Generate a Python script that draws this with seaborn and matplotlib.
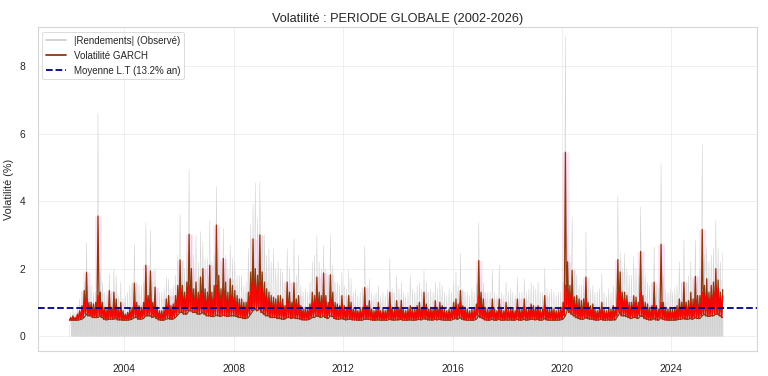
import numpy as np
import pandas as pd
import seaborn as sns
import matplotlib.pyplot as plt
import matplotlib.dates as mdates

# valeurs mensuelles (janv. 2002 -> nov. 2025)
# |rendements| : maximum du mois (%)
rend_max = [
    0.7, 0.8, 0.7, 0.9, 1.1, 1.3, 1.6, 2.77, 1.5, 1.5, 1.3, 1.3,        # 2002
    6.6, 1.9, 1.6, 1.3, 1.2, 1.85, 1.3, 2.0, 1.8, 1.2, 1.6, 1.1,        # 2003
    1.2, 1.3, 1.5, 1.6, 2.73, 1.6, 1.5, 1.5, 1.6, 3.36, 1.8, 3.14,      # 2004
    1.6, 2.0, 1.4, 1.3, 1.3, 1.4, 1.75, 1.7, 1.4, 1.5, 1.8, 2.4,        # 2005
    3.6, 2.2, 2.0, 2.5, 4.93, 3.0, 2.4, 3.0, 2.2, 3.1, 2.8, 2.3,        # 2006
    2.3, 3.43, 2.2, 2.4, 4.44, 2.6, 2.2, 3.2, 2.4, 2.0, 2.7, 2.3,       # 2007
    2.24, 1.8, 1.8, 1.8, 1.5, 1.6, 2.6, 3.3, 3.9, 4.54, 3.5, 4.56,      # 2008
    3.0, 3.0, 2.4, 2.6, 2.2, 2.6, 2.0, 2.2, 2.0, 1.9, 1.6, 2.58,        # 2009
    2.0, 1.6, 2.88, 1.8, 2.4, 1.5, 1.3, 1.4, 1.3, 1.6, 2.2, 2.4,        # 2010
    2.97, 2.2, 2.0, 2.68, 2.0, 1.8, 3.0, 2.1, 1.6, 1.6, 1.5, 1.9,       # 2011
    1.5, 1.4, 1.95, 1.7, 1.3, 1.4, 1.2, 1.3, 1.4, 2.66, 1.5, 1.7,       # 2012
    1.3, 1.2, 1.3, 1.5, 1.2, 1.3, 1.2, 1.4, 2.3, 1.4, 1.3, 1.8,         # 2013
    1.4, 1.6, 1.3, 1.2, 1.3, 1.8, 1.4, 1.3, 1.5, 1.6, 1.4, 1.94,        # 2014
    1.6, 1.3, 1.4, 1.3, 1.6, 1.4, 1.6, 1.5, 1.3, 1.2, 1.4, 1.3,         # 2015
    1.6, 1.9, 1.5, 2.45, 1.4, 1.3, 1.3, 1.2, 1.4, 1.3, 1.6, 3.36,       # 2016
    1.8, 1.6, 1.3, 1.3, 1.3, 1.95, 1.3, 1.2, 2.1, 1.3, 1.2, 1.6,        # 2017
    1.3, 1.4, 1.3, 1.2, 1.75, 1.3, 1.3, 1.7, 1.3, 1.4, 1.6, 1.5,        # 2018
    1.4, 1.6, 1.3, 1.3, 2.0, 1.4, 1.3, 1.4, 1.3, 1.2, 1.3, 1.3,         # 2019
    1.6, 8.9, 3.0, 2.4, 3.53, 2.0, 1.8, 1.5, 1.5, 1.5, 3.09, 1.6,       # 2020
    1.4, 1.5, 1.3, 1.3, 1.4, 1.86, 1.3, 1.2, 1.4, 1.3, 1.5, 1.4,        # 2021
    4.15, 2.5, 2.0, 2.45, 2.0, 1.8, 1.8, 2.35, 2.0, 1.8, 3.83, 2.0,     # 2022
    1.8, 1.6, 1.5, 1.6, 2.64, 1.5, 1.4, 5.12, 1.8, 1.4, 1.3, 1.4,       # 2023
    1.3, 1.4, 1.5, 2.2, 1.6, 2.86, 1.6, 1.8, 2.2, 1.7, 2.85, 1.8,       # 2024
    2.0, 5.68, 2.4, 2.64, 2.2, 2.4, 2.6, 3.43, 2.6, 2.2, 2.46,          # 2025
]

# volatilite GARCH : maximum du mois (%)
vol_max = [
    0.55, 0.6, 0.55, 0.65, 0.75, 0.9, 1.35, 1.89, 1.0, 1.0, 0.95, 1.0,
    3.56, 1.3, 1.0, 0.85, 0.8, 1.35, 0.85, 1.3, 1.1, 0.8, 1.0, 0.75,
    0.65, 0.7, 0.8, 0.85, 1.57, 1.0, 0.9, 0.85, 1.0, 2.1, 1.2, 1.93,
    1.0, 1.45, 0.85, 0.75, 0.75, 0.8, 1.1, 1.2, 0.9, 0.95, 1.2, 1.5,
    2.26, 1.5, 1.3, 1.6, 3.02, 2.0, 1.4, 1.6, 1.3, 1.75, 2.0, 1.4,
    1.3, 2.1, 1.3, 1.5, 3.29, 1.8, 1.4, 2.3, 1.6, 1.3, 1.7, 1.5,
    1.35, 1.2, 1.1, 1.1, 1.0, 1.0, 1.3, 1.9, 2.88, 2.0, 1.8, 3.0,
    1.9, 1.6, 1.4, 1.3, 1.2, 1.15, 1.1, 1.2, 1.2, 1.1, 0.9, 1.6,
    1.3, 1.0, 1.58, 1.1, 1.2, 0.9, 0.8, 0.85, 0.8, 0.95, 1.3, 1.2,
    1.75, 1.3, 1.2, 1.87, 1.2, 1.0, 1.82, 1.3, 1.0, 0.95, 0.9, 1.2,
    0.9, 0.85, 1.2, 1.0, 0.8, 0.85, 0.75, 0.8, 0.85, 1.44, 0.9, 1.05,
    0.8, 0.75, 0.8, 1.0, 0.75, 0.8, 0.75, 0.85, 1.3, 0.85, 0.8, 1.05,
    0.85, 1.06, 0.8, 0.75, 0.8, 0.9, 0.8, 0.8, 0.9, 1.0, 0.85, 1.3,
    0.95, 0.8, 0.85, 0.8, 1.05, 0.85, 1.0, 0.9, 0.8, 0.75, 0.8, 0.8,
    1.0, 1.1, 0.95, 1.35, 0.9, 0.85, 0.8, 0.75, 0.8, 0.8, 0.95, 2.24,
    1.3, 1.1, 0.85, 0.8, 0.8, 1.1, 0.8, 0.75, 1.1, 0.8, 0.75, 1.0,
    0.8, 0.85, 0.8, 0.75, 1.1, 0.8, 0.8, 1.1, 0.8, 0.85, 0.95, 0.9,
    0.85, 0.9, 0.8, 0.8, 1.2, 0.85, 0.8, 0.85, 0.8, 0.75, 0.8, 0.85,
    1.0, 5.45, 2.2, 1.5, 1.95, 1.16, 1.2, 1.1, 1.05, 1.1, 1.75, 1.0,
    0.9, 0.95, 0.8, 0.75, 0.85, 1.0, 0.8, 0.75, 0.85, 0.8, 0.9, 0.85,
    2.27, 1.9, 1.3, 1.3, 1.2, 1.0, 1.0, 1.2, 1.15, 1.0, 2.51, 1.2,
    1.0, 0.95, 0.85, 0.9, 1.6, 0.9, 0.8, 2.72, 1.0, 0.85, 0.8, 0.85,
    0.8, 0.85, 0.9, 1.1, 1.0, 1.6, 1.0, 1.05, 1.3, 1.1, 1.77, 1.2,
    1.2, 3.16, 1.5, 1.7, 1.3, 1.5, 1.6, 2.0, 1.66, 1.3, 1.38,
]

# volatilite GARCH : minimum du mois (%)
vol_min = [
    0.47, 0.47, 0.47, 0.47, 0.48, 0.5, 0.55, 0.65, 0.6, 0.6, 0.55, 0.55,
    0.55, 0.6, 0.55, 0.5, 0.48, 0.5, 0.5, 0.5, 0.52, 0.48, 0.48, 0.47,
    0.47, 0.47, 0.48, 0.5, 0.55, 0.55, 0.5, 0.5, 0.52, 0.6, 0.6, 0.6,
    0.55, 0.58, 0.52, 0.48, 0.47, 0.47, 0.5, 0.52, 0.5, 0.5, 0.55, 0.62,
    0.7, 0.7, 0.65, 0.65, 0.75, 0.75, 0.7, 0.7, 0.65, 0.65, 0.7, 0.65,
    0.6, 0.6, 0.58, 0.58, 0.62, 0.6, 0.58, 0.62, 0.6, 0.58, 0.6, 0.6,
    0.6, 0.58, 0.55, 0.55, 0.52, 0.52, 0.55, 0.65, 0.75, 0.8, 0.75, 0.8,
    0.7, 0.65, 0.6, 0.6, 0.55, 0.55, 0.55, 0.52, 0.52, 0.5, 0.5, 0.55,
    0.55, 0.52, 0.55, 0.52, 0.52, 0.5, 0.48, 0.48, 0.48, 0.5, 0.55, 0.55,
    0.6, 0.58, 0.55, 0.6, 0.55, 0.52, 0.6, 0.58, 0.52, 0.5, 0.5, 0.52,
    0.5, 0.48, 0.5, 0.5, 0.48, 0.48, 0.47, 0.47, 0.47, 0.5, 0.5, 0.5,
    0.48, 0.47, 0.47, 0.48, 0.47, 0.47, 0.47, 0.47, 0.5, 0.48, 0.47, 0.48,
    0.48, 0.5, 0.47, 0.47, 0.47, 0.48, 0.47, 0.47, 0.48, 0.5, 0.48, 0.52,
    0.5, 0.48, 0.48, 0.47, 0.5, 0.48, 0.5, 0.48, 0.47, 0.47, 0.47, 0.47,
    0.5, 0.52, 0.5, 0.55, 0.5, 0.48, 0.47, 0.47, 0.47, 0.47, 0.5, 0.6,
    0.55, 0.52, 0.48, 0.47, 0.47, 0.5, 0.47, 0.47, 0.5, 0.47, 0.47, 0.48,
    0.47, 0.48, 0.47, 0.47, 0.5, 0.47, 0.47, 0.5, 0.47, 0.48, 0.5, 0.5,
    0.48, 0.5, 0.47, 0.47, 0.52, 0.48, 0.47, 0.47, 0.47, 0.47, 0.47, 0.48,
    0.5, 0.6, 0.8, 0.7, 0.65, 0.6, 0.55, 0.52, 0.5, 0.5, 0.55, 0.52,
    0.5, 0.5, 0.48, 0.47, 0.48, 0.5, 0.47, 0.47, 0.48, 0.47, 0.48, 0.48,
    0.6, 0.7, 0.6, 0.6, 0.58, 0.55, 0.52, 0.55, 0.55, 0.52, 0.6, 0.58,
    0.52, 0.5, 0.48, 0.48, 0.52, 0.48, 0.47, 0.55, 0.5, 0.48, 0.47, 0.47,
    0.47, 0.47, 0.48, 0.5, 0.5, 0.52, 0.5, 0.5, 0.52, 0.5, 0.55, 0.52,
    0.52, 0.6, 0.65, 0.6, 0.58, 0.6, 0.6, 0.65, 0.65, 0.6, 0.55,
]

# haut de la zone rouge (%)
vol_rouge = [
    0.5, 0.55, 0.5, 0.6, 0.7, 0.8, 1.0, 1.1, 0.9, 0.85, 0.8, 0.8,
    1.2, 1.0, 0.85, 0.75, 0.7, 0.9, 0.75, 0.9, 0.85, 0.7, 0.8, 0.65,
    0.6, 0.65, 0.7, 0.75, 1.0, 0.85, 0.8, 0.75, 0.85, 1.2, 1.0, 1.1,
    0.85, 1.0, 0.75, 0.68, 0.65, 0.7, 0.9, 0.95, 0.8, 0.85, 1.0, 1.2,
    1.4, 1.2, 1.1, 1.2, 1.5, 1.4, 1.15, 1.2, 1.1, 1.25, 1.3, 1.15,
    1.1, 1.3, 1.1, 1.15, 1.5, 1.3, 1.1, 1.35, 1.2, 1.05, 1.2, 1.15,
    1.1, 1.0, 0.95, 0.9, 0.85, 0.85, 1.05, 1.3, 1.6, 1.6, 1.5, 1.6,
    1.4, 1.25, 1.15, 1.1, 1.0, 1.0, 0.95, 1.0, 1.0, 0.9, 0.8, 1.1,
    1.0, 0.85, 1.05, 0.9, 0.95, 0.8, 0.72, 0.75, 0.72, 0.8, 1.0, 1.0,
    1.15, 1.05, 1.0, 1.15, 1.0, 0.9, 1.1, 1.0, 0.85, 0.8, 0.8, 0.95,
    0.8, 0.75, 0.9, 0.85, 0.72, 0.75, 0.7, 0.7, 0.75, 0.95, 0.8, 0.85,
    0.72, 0.68, 0.7, 0.8, 0.68, 0.7, 0.68, 0.72, 0.9, 0.75, 0.7, 0.82,
    0.75, 0.82, 0.7, 0.68, 0.7, 0.78, 0.7, 0.7, 0.78, 0.82, 0.75, 0.9,
    0.8, 0.72, 0.75, 0.7, 0.85, 0.75, 0.82, 0.78, 0.7, 0.68, 0.72, 0.7,
    0.85, 0.9, 0.82, 1.0, 0.8, 0.75, 0.7, 0.68, 0.7, 0.7, 0.82, 1.2,
    0.95, 0.85, 0.72, 0.7, 0.7, 0.85, 0.7, 0.68, 0.85, 0.7, 0.68, 0.8,
    0.7, 0.75, 0.7, 0.68, 0.85, 0.7, 0.7, 0.85, 0.7, 0.75, 0.8, 0.78,
    0.75, 0.78, 0.7, 0.7, 0.9, 0.75, 0.7, 0.75, 0.7, 0.68, 0.7, 0.72,
    0.85, 1.5, 1.4, 1.2, 1.2, 0.95, 0.95, 0.85, 0.82, 0.85, 1.1, 0.82,
    0.78, 0.8, 0.7, 0.68, 0.72, 0.82, 0.7, 0.68, 0.72, 0.7, 0.75, 0.72,
    1.3, 1.35, 1.1, 1.1, 1.05, 0.9, 0.9, 1.0, 1.0, 0.9, 1.3, 1.0,
    0.85, 0.8, 0.72, 0.75, 0.95, 0.75, 0.7, 1.0, 0.8, 0.72, 0.7, 0.7,
    0.7, 0.72, 0.75, 0.85, 0.82, 0.95, 0.85, 0.88, 1.0, 0.9, 1.1, 0.95,
    0.95, 1.3, 1.2, 1.25, 1.1, 1.2, 1.25, 1.5, 1.4, 1.15, 1.2,
]

vol_lt = 0.83  # 13.2 % annualise / sqrt(252)
titre = "Volatilité : PERIODE GLOBALE (2002-2026)"

sns.set_theme(style="whitegrid", rc={
    "axes.edgecolor": "#d6d6d6", "axes.linewidth": 0.8,
    "grid.color": "#ececec", "grid.linewidth": 0.6,
})
plt.rcParams['font.family'] = ['Liberation Sans', 'DejaVu Sans']

mois = pd.date_range("2002-01-01", periods=len(vol_max), freq="MS")
milieu = mois + pd.Timedelta(days=15)


def zigzag(bas, haut):
    # bas en debut de mois, haut au milieu : aspect d'une serie journaliere dense
    df = pd.DataFrame({"date": np.concatenate([mois.values, milieu.values]),
                       "val": np.concatenate([bas, haut])})
    return df.sort_values("date").reset_index(drop=True)


gris = zigzag(np.zeros(len(rend_max)), rend_max)
rouge = zigzag(vol_min, vol_rouge)
garch = zigzag(vol_min, vol_max)
halo = pd.Series(vol_max).rolling(3, center=True, min_periods=1).max()

fig, ax = plt.subplots(figsize=(7.68, 3.76), dpi=100)
fig.subplots_adjust(left=0.049, right=0.986, bottom=0.066, top=0.928)

ax.fill_between(milieu, 0, halo, step="mid", color="#ff4fc0", alpha=0.16, lw=0, zorder=1)
# socle gris des rendements sous la bande GARCH
ax.fill_between(milieu, 0, vol_min, step="mid", color="#d9d9d9", lw=0, zorder=2)
sns.lineplot(data=gris, x="date", y="val", ax=ax, color="#d0d0d0", lw=0.35,
             estimator=None, label="|Rendements| (Observé)", zorder=2)
sns.lineplot(data=garch, x="date", y="val", ax=ax, color="#8b3a0e", lw=0.9,
             estimator=None, label="Volatilité GARCH", zorder=3)
sns.lineplot(data=rouge, x="date", y="val", ax=ax, color="red", lw=1.1,
             alpha=0.9, estimator=None, legend=False, zorder=4)
sns.lineplot(x=milieu, y=vol_min, ax=ax, color="#8b3a0e", lw=0.9,
             estimator=None, legend=False, zorder=4)
ax.axhline(vol_lt, color="darkblue", ls="--", lw=1.3, label="Moyenne L.T (13.2% an)", zorder=5)

ax.set_xlim(pd.Timestamp("2000-11-01"), pd.Timestamp("2027-02-20"))
ax.set_ylim(-0.45, 9.16)
ax.xaxis.set_major_locator(mdates.YearLocator(4))
ax.xaxis.set_major_formatter(mdates.DateFormatter("%Y"))
ax.set_xlabel("")
ax.set_ylabel("Volatilité (%)", fontsize=7.8)
ax.set_title(titre, fontsize=9.2, pad=4)
ax.tick_params(labelsize=7.4, pad=3)

leg = ax.legend(loc="upper left", fontsize=7.0, framealpha=0.8)
leg.get_frame().set_linewidth(0.6)
for line in leg.get_lines():
    line.set_linewidth(1.3)

fig.savefig("out.png", dpi=100)
